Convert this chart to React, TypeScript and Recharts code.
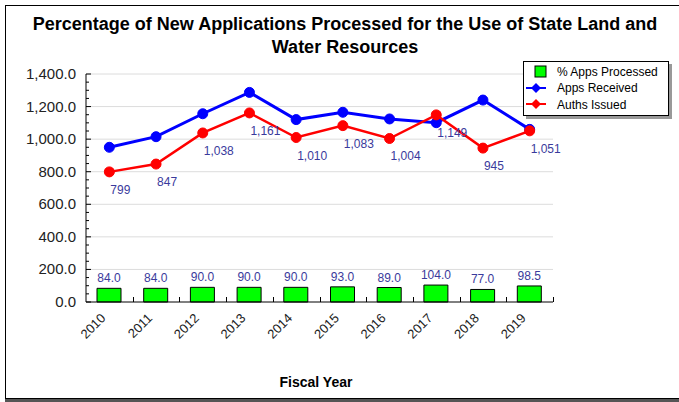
import React from 'react';
import {
  ComposedChart, Bar, Line, XAxis, YAxis, ReferenceLine, LabelList,
} from 'recharts';

const years = ['2010', '2011', '2012', '2013', '2014', '2015', '2016', '2017', '2018', '2019'];
const pctProcessed = [84.0, 84.0, 90.0, 90.0, 90.0, 93.0, 89.0, 104.0, 77.0, 98.5];
const appsReceived = [950, 1015, 1156, 1287, 1120, 1165, 1124, 1101, 1240, 1060];
const authsIssued = [799, 847, 1038, 1161, 1010, 1083, 1004, 1149, 945, 1051];

const yTicks = [0, 50, 100, 150, 200, 250, 300, 350, 400, 450, 500, 550, 600, 650, 700,
  750, 800, 850, 900, 950, 1000, 1050, 1100, 1150, 1200, 1250, 1300, 1350, 1400];
const gridValues = [200, 400, 600, 800, 1000, 1200, 1400];

const data = years.map((year, i) => ({
  year,
  pct: pctProcessed[i],
  received: appsReceived[i],
  auths: authsIssued[i],
}));

const FONT = 'Arial, "Liberation Sans", sans-serif';
const LABEL_BLUE = '#3a3a9c';

const YTick = (props: any) => {
  const { x, y, payload } = props;
  const major = payload.value % 200 === 0;
  return (
    <g>
      <line x1={x} x2={x + (major ? 5 : 3)} y1={y} y2={y} stroke="#000" />
      {major && (
        <text x={x - 10} y={y} dy={5} textAnchor="end" fontSize={15} fill="#222" fontFamily={FONT}>
          {payload.value.toLocaleString('en-US', { minimumFractionDigits: 1, maximumFractionDigits: 1 })}
        </text>
      )}
    </g>
  );
};

const XTick = (props: any) => {
  const { x, y, payload } = props;
  const ax = x - 3;
  const ay = y + 17;
  return (
    <text
      x={ax}
      y={ay}
      transform={`rotate(-45, ${ax}, ${ay})`}
      textAnchor="end"
      fontSize={13}
      fill="#222"
      fontFamily={FONT}
    >
      {payload.value}
    </text>
  );
};

// short upward tick at the right edge of a category band
const BandEdgeTick = (props: any) => {
  const { x1, y1, y2 } = props;
  const bottom = Math.max(Number(y1), Number(y2));
  const px = Math.round(Number(x1)) + 0.5;
  return <line x1={px} x2={px} y1={bottom} y2={bottom - 5} stroke="#000" strokeWidth={1} />;
};

const AuthLabel = (props: any) => {
  const { x, y, value } = props;
  return (
    <text x={x + 1} y={y + 22} fontSize={12} fill={LABEL_BLUE} fontFamily={FONT}>
      {Number(value).toLocaleString('en-US')}
    </text>
  );
};

const LegendBox = () => (
  <div
    style={{
      position: 'absolute', left: 523, top: 61, width: 146, height: 55,
      boxSizing: 'border-box', border: '1px solid #000', background: '#fff',
      boxShadow: '3px 3px 0 #999', fontFamily: FONT, fontSize: 12,
    }}
  >
    <svg width={144} height={53} style={{ position: 'absolute', left: 0, top: 0 }}>
      <rect x={11} y={4} width={11} height={11} fill="#00ff00" stroke="#000" />
      <text x={33} y={14} fontSize={12} fontFamily={FONT}>% Apps Processed</text>
      <line x1={2} x2={22} y1={26} y2={26} stroke="#0000ff" strokeWidth={2} />
      <polygon points="12,21 17,26 12,31 7,26" fill="#0000ff" />
      <text x={33} y={30} fontSize={12} fontFamily={FONT}>Apps Received</text>
      <line x1={2} x2={22} y1={42} y2={42} stroke="#ff0000" strokeWidth={2} />
      <polygon points="12,37 17,42 12,47 7,42" fill="#ff0000" />
      <text x={33} y={47} fontSize={12} fontFamily={FONT}>Auths Issued</text>
    </svg>
  </div>
);

export default function App() {
  return (
    <div style={{ position: 'absolute', left: 0, top: 0, width: 679, height: 402, overflow: 'hidden', background: '#fff', fontFamily: FONT }}>
      <div
        style={{
          position: 'absolute', left: 5, top: 5, width: 700, height: 394,
          boxSizing: 'border-box', border: '1px solid #000', boxShadow: '0 3px 0 #555',
        }}
      />
      <div style={{ position: 'absolute', left: 0, top: 13, width: 690, textAlign: 'center', fontWeight: 'bold', fontSize: 18, lineHeight: '23px', color: '#000' }}>
        Percentage of New Applications Processed for the Use of State Land and
        <br />
        Water Resources
      </div>
      <div style={{ position: 'absolute', left: 0, top: 374, width: 632, textAlign: 'center', fontWeight: 'bold', fontSize: 14 }}>
        Fiscal Year
      </div>
      <div style={{ position: 'absolute', left: 0, top: 0 }}>
        <ComposedChart
          width={679}
          height={402}
          data={data}
          margin={{ top: 74, right: 126, bottom: 40, left: 6 }}
        >
          <XAxis
            xAxisId="cat"
            dataKey="year"
            height={60}
            axisLine={{ stroke: '#000' }}
            tickLine={false}
            tickSize={0}
            tickMargin={0}
            interval={0}
            tick={<XTick />}
          />
          <YAxis
            yAxisId="l"
            domain={[0, 1400]}
            ticks={yTicks}
            interval={0}
            width={80}
            axisLine={{ stroke: '#000' }}
            tickLine={false}
            tickSize={0}
            tickMargin={0}
            tick={<YTick />}
          />
          {gridValues.map((v) => (
            <ReferenceLine key={v} yAxisId="l" xAxisId="cat" y={v} stroke="#dcdcdc" strokeWidth={1} />
          ))}
          {years.map((yr) => (
            <ReferenceLine
              key={`edge-${yr}`}
              yAxisId="l"
              xAxisId="cat"
              x={yr}
              position="end"
              stroke="#000"
              shape={<BandEdgeTick />}
            />
          ))}
          <Bar
            xAxisId="cat"
            yAxisId="l"
            dataKey="pct"
            barSize={24}
            fill="#00ff00"
            stroke="#000"
            strokeWidth={1}
            isAnimationActive={false}
          >
            <LabelList
              dataKey="pct"
              position="top"
              offset={6}
              fill={LABEL_BLUE}
              fontSize={12}
              fontFamily={FONT}
              formatter={(v: any) => Number(v).toFixed(1)}
            />
          </Bar>
          <Line
            xAxisId="cat"
            yAxisId="l"
            dataKey="received"
            stroke="#0000ff"
            strokeWidth={3}
            dot={{ r: 5, fill: '#0000ff', stroke: '#0000ff', strokeWidth: 1 }}
            isAnimationActive={false}
          />
          <Line
            xAxisId="cat"
            yAxisId="l"
            dataKey="auths"
            stroke="#ff0000"
            strokeWidth={2.5}
            dot={{ r: 5, fill: '#ff0000', stroke: '#ff0000', strokeWidth: 1 }}
            isAnimationActive={false}
          >
            <LabelList dataKey="auths" content={<AuthLabel />} />
          </Line>
        </ComposedChart>
      </div>
      <LegendBox />
    </div>
  );
}
